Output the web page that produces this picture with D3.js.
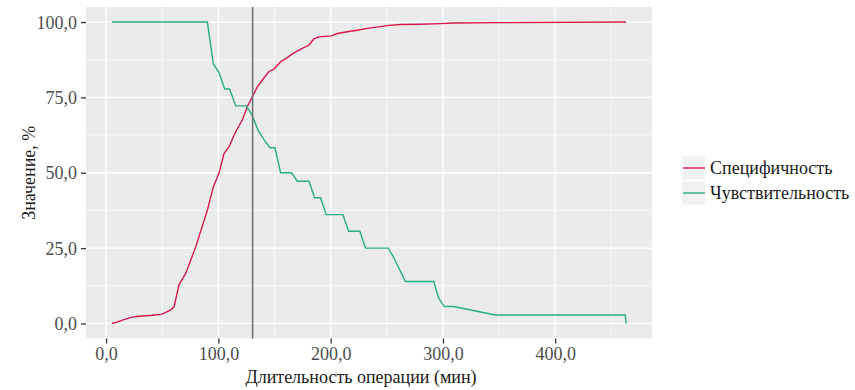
<!DOCTYPE html>
<html>
<head>
<meta charset="utf-8">
<script src="https://cdn.jsdelivr.net/npm/d3@7"></script>
<style>
  body { margin: 0; background: #ffffff; }
</style>
</head>
<body>
<div id="chart"></div>
<script>
// Specificity curve
var specDuration = [5, 8.7, 14.6, 22, 29.4, 41, 50, 57.6, 60.5, 65, 70.9, 79.8, 90.2, 95.5, 100.5,
    105, 109.4, 115.4, 121.3, 125.8, 130.2, 134.7, 140, 145, 149.5, 155.4, 161.4, 166.4, 174.7,
    180.6, 185, 189.5, 201, 206, 214.8, 223.7, 232.6, 244.4, 251.8, 262.2, 280, 297.8, 309.6,
    351, 463];
var specValue = [0, 0.3, 1.1, 2, 2.4, 2.7, 3.1, 4.5, 5.5, 12.9, 16.6, 25.4, 37.6, 45.3, 49.8,
    56.4, 58.6, 63.6, 67.5, 71.9, 75.2, 78.5, 81.2, 83.6, 84.4, 86.8, 88.2, 89.6, 91.3,
    92.3, 94.4, 95.1, 95.4, 96.2, 96.8, 97.3, 97.9, 98.5, 98.9, 99.2, 99.3, 99.5, 99.7,
    99.8, 100];

// Sensitivity curve
var sensDuration = [5, 90.2, 95.5, 100.5, 105.6, 110, 115.4, 124.9, 129.6, 135.6, 140.5, 145.9,
    150.4, 155.4, 165.2, 170.3, 180.6, 185.8, 191, 196, 210.9, 216, 226, 231, 251.2,
    255.7, 266.6, 291.8, 296.3, 301.3, 309.6, 346.7, 462.3, 463.3];
var sensValue = [100, 100, 86.1, 83.3, 77.8, 77.8, 72.2, 72.2, 69.4, 63.9, 61.1, 58.3,
    58.3, 50, 50, 47.2, 47.2, 41.7, 41.7, 36.1, 36.1, 30.6, 30.6, 25, 25,
    22.2, 13.9, 13.9, 8.3, 5.6, 5.6, 2.8, 2.8, 0];

var cutoff = 130.5;

var seriesNames = ["Специфичность", "Чувствительность"];
var seriesColors = ["#d7194a", "#27ae86"];

var xTicks = [0, 100, 200, 300, 400];
var xMinor = [50, 150, 250, 350, 450];
var yTicks = [0, 25, 50, 75, 100];
var yMinor = [12.5, 37.5, 62.5, 87.5];

var FONT = "'Liberation Serif'";
var fmt = function (d) { return d3.format(".1f")(d).replace(".", ","); };

var W = 855, H = 390;
var panel = { left: 86, right: 652, top: 7, bottom: 338.5 };

var svg = d3.select("#chart")
    .append("svg")
        .attr("width", W)
        .attr("height", H);

svg.append("rect").attr("width", W).attr("height", H).attr("fill", "#ffffff");

// ggplot-ish 5% expansion
var xLo = d3.min(specDuration), xHi = d3.max(sensDuration);
var xPad = (xHi - xLo) * 0.05;
var xScale = d3.scaleLinear()
    .domain([xLo - xPad, xHi + xPad])
    .range([panel.left, panel.right]);

var yScale = d3.scaleLinear()
    .domain([-5, 105])
    .range([panel.bottom, panel.top]);

svg.append("rect")
    .attr("x", panel.left)
    .attr("y", panel.top)
    .attr("width", panel.right - panel.left)
    .attr("height", panel.bottom - panel.top)
    .attr("fill", "#ebebeb");

// grid lines
var grid = svg.append("g");
grid.selectAll(".xminor").data(xMinor).enter().append("line")
    .attr("x1", d => xScale(d)).attr("x2", d => xScale(d))
    .attr("y1", panel.top).attr("y2", panel.bottom)
    .attr("stroke", "#ffffff").attr("stroke-width", 0.6);
grid.selectAll(".yminor").data(yMinor).enter().append("line")
    .attr("y1", d => yScale(d)).attr("y2", d => yScale(d))
    .attr("x1", panel.left).attr("x2", panel.right)
    .attr("stroke", "#ffffff").attr("stroke-width", 0.6);
grid.selectAll(".xmajor").data(xTicks).enter().append("line")
    .attr("x1", d => xScale(d)).attr("x2", d => xScale(d))
    .attr("y1", panel.top).attr("y2", panel.bottom)
    .attr("stroke", "#ffffff").attr("stroke-width", 1.3);
grid.selectAll(".ymajor").data(yTicks).enter().append("line")
    .attr("y1", d => yScale(d)).attr("y2", d => yScale(d))
    .attr("x1", panel.left).attr("x2", panel.right)
    .attr("stroke", "#ffffff").attr("stroke-width", 1.3);

// axes
var xAxis = svg.append("g")
    .attr("transform", "translate(0," + panel.bottom + ")")
    .call(d3.axisBottom(xScale).tickValues(xTicks).tickFormat(fmt).tickSize(5).tickPadding(4));
var yAxis = svg.append("g")
    .attr("transform", "translate(" + panel.left + ",0)")
    .call(d3.axisLeft(yScale).tickValues(yTicks).tickFormat(fmt).tickSize(5).tickPadding(4));

[xAxis, yAxis].forEach(function (ax) {
    ax.attr("font-family", null).attr("font-size", null);
    ax.select(".domain").remove();
    ax.selectAll(".tick line").attr("stroke", "#333333").attr("stroke-width", 1.3);
    ax.selectAll(".tick text")
        .attr("fill", "#4d4d4d")
        .style("font-size", "18px")
        .style("font-family", FONT);
});
yAxis.selectAll(".tick text").attr("dy", "0.34em");

// lines
var line = d3.line()
    .x(d => xScale(d[0]))
    .y(d => yScale(d[1]));

var specData = specDuration.map((d, i) => [d, specValue[i]]);
var sensData = sensDuration.map((d, i) => [d, sensValue[i]]);

svg.append("path")
    .datum(specData)
    .attr("d", line)
    .attr("fill", "none")
    .attr("stroke", seriesColors[0])
    .attr("stroke-width", 1.4);

svg.append("path")
    .datum(sensData)
    .attr("d", line)
    .attr("fill", "none")
    .attr("stroke", seriesColors[1])
    .attr("stroke-width", 1.4);

// cutoff marker
svg.append("line")
    .attr("x1", xScale(cutoff)).attr("x2", xScale(cutoff))
    .attr("y1", panel.top).attr("y2", panel.bottom)
    .attr("stroke", "#6e6e6e")
    .attr("stroke-width", 1.5);

// axis titles
svg.append("text")
    .attr("x", 361)
    .attr("y", 383)
    .style("text-anchor", "middle")
    .style("font-size", "18px")
    .style("font-family", FONT)
    .attr("fill", "#1a1a1a")
    .text("Длительность операции (мин)");

svg.append("text")
    .attr("transform", "translate(35," + ((panel.top + panel.bottom) / 2) + ") rotate(-90)")
    .style("text-anchor", "middle")
    .style("font-size", "18px")
    .style("font-family", FONT)
    .attr("fill", "#1a1a1a")
    .text("Значение, %");

// legend
var legend = svg.append("g").attr("transform", "translate(682,156.5)");
var keys = legend.selectAll("g").data(seriesNames).enter().append("g")
    .attr("transform", (d, i) => "translate(0," + (i * 25) + ")");
keys.append("rect")
    .attr("width", 23).attr("height", 23)
    .attr("fill", "#f2f2f2");
keys.append("line")
    .attr("x1", 1).attr("x2", 23)
    .attr("y1", 11.5).attr("y2", 11.5)
    .attr("stroke", (d, i) => seriesColors[i])
    .attr("stroke-width", 1.4);
keys.append("text")
    .attr("x", 28)
    .attr("y", 17.5)
    .style("font-size", "18px")
    .style("font-family", FONT)
    .attr("fill", "#1a1a1a")
    .text(d => d);
</script>
</body>
</html>
